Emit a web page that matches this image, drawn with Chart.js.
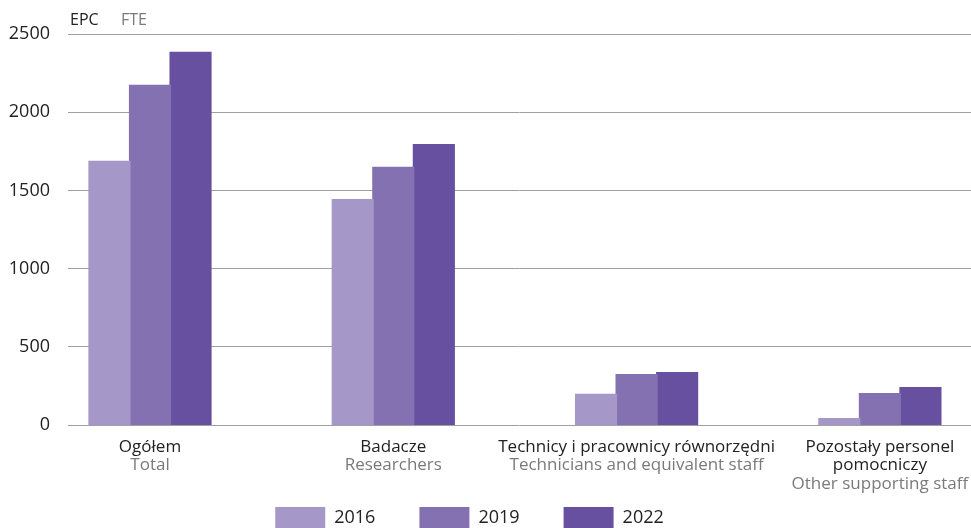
<!DOCTYPE html>
<html>
<head>
<meta charset="utf-8">
<script src="https://cdn.jsdelivr.net/npm/chart.js@4/dist/chart.umd.min.js"></script>
<style>
  html, body { margin: 0; padding: 0; background: #fff; overflow: hidden; }
</style>
</head>
<body>
<canvas id="chart" width="971" height="538"></canvas>
<script>
// Employment in R&D by staff category (FTE)
const categoriesPl = [['Ogółem'], ['Badacze'], ['Technicy i pracownicy równorzędni'], ['Pozostały personel', 'pomocniczy']];
const categoriesEn = ['Total', 'Researchers', 'Technicians and equivalent staff', 'Other supporting staff'];
const years = ['2016', '2019', '2022'];
const values2016 = [1685, 1440, 195, 40];
const values2019 = [2171, 1646, 321, 199];
const values2022 = [2382, 1792, 334, 238];
const yTicks = [0, 500, 1000, 1500, 2000, 2500];
const colors = ['#a597c8', '#8471b1', '#6750a0'];

const FONT = 'Open Sans';
const DARK = '#222222';
const GREY = '#7a7a7a';

// two-colour category labels under the axis + unit header
const categoryLabels = {
  id: 'categoryLabels',
  afterDraw(chart) {
    const { ctx, scales: { x }, chartArea } = chart;
    ctx.save();
    ctx.font = `17px "${FONT}"`;
    ctx.textAlign = 'center';
    ctx.textBaseline = 'middle';
    categoriesPl.forEach((lines, i) => {
      const cx = x.getPixelForValue(i);
      let y = chartArea.bottom + 22;
      ctx.fillStyle = DARK;
      lines.forEach(line => {
        ctx.fillText(line, cx, y);
        y += 18.5;
      });
      ctx.fillStyle = GREY;
      ctx.fillText(categoriesEn[i], cx, y);
    });

    ctx.textAlign = 'left';
    ctx.textBaseline = 'alphabetic';
    ctx.font = `16px "${FONT}"`;
    ctx.fillStyle = DARK;
    ctx.fillText('EPC', 70, 25);
    ctx.fillStyle = GREY;
    ctx.fillText('FTE', 121, 25);
    ctx.restore();
  }
};

const series = [values2016, values2019, values2022];

new Chart(document.getElementById('chart'), {
  type: 'bar',
  data: {
    datasets: series.map((vals, k) => ({
      label: years[k],
      data: vals.map((v, i) => ({ x: i, y: v })),
      backgroundColor: colors[k],
      borderWidth: 0,
      inflateAmount: 0.8,
      barPercentage: 1,
      categoryPercentage: 0.5
    }))
  },
  options: {
    responsive: false,
    animation: false,
    layout: { padding: { top: 34, left: -32, right: 0, bottom: 0 } },
    scales: {
      x: {
        type: 'linear',
        offset: false,
        min: -0.337,
        max: 3.3745,
        grid: { display: false, offset: false },
        border: { display: false },
        ticks: { display: false },
        afterBuildTicks: s => { s.ticks = categoriesEn.map((_, i) => ({ value: i })); },
        afterFit: s => { s.height = 38; }
      },
      y: {
        min: 0,
        max: 2500,
        afterBuildTicks: s => { s.ticks = yTicks.map(v => ({ value: v })); },
        grid: { color: '#a0a0a0', drawTicks: false },
        border: { display: false },
        ticks: {
          padding: 18,
          color: DARK,
          font: { family: FONT, size: 18 },
          callback: v => String(v)
        },
        afterFit: s => { s.width = 100; }
      }
    },
    plugins: {
      tooltip: { enabled: false },
      legend: {
        position: 'bottom',
        labels: {
          boxWidth: 50,
          boxHeight: 21,
          padding: 44,
          color: DARK,
          font: { family: FONT, size: 18 }
        }
      }
    }
  },
  plugins: [categoryLabels]
});
</script>
</body>
</html>
